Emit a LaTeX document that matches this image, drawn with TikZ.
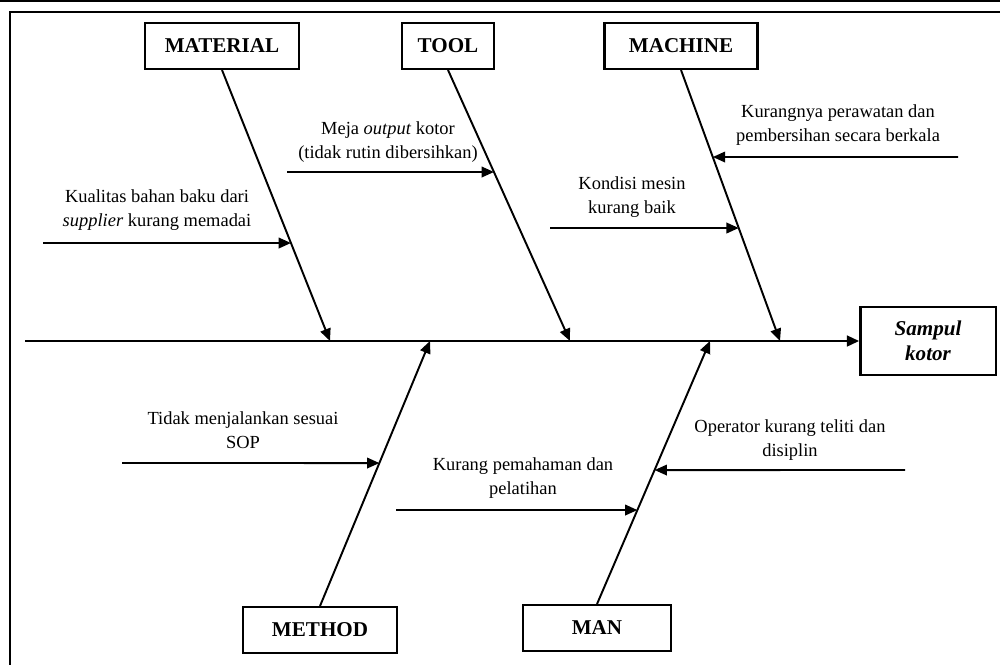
\documentclass[tikz,border=0pt]{standalone}
\usepackage{fontspec}
\setmainfont{Liberation Serif}
\usetikzlibrary{arrows.meta,positioning,calc}

\begin{document}
\begin{tikzpicture}[
        x=0.02cm, y=-0.02cm,
        font=\fontsize{10.5}{13.6}\selectfont,
        cause/.style={draw, line width=1.3pt, align=center, inner sep=0pt,
            minimum height=26pt, font=\fontsize{12}{14}\selectfont\bfseries},
        effect/.style={draw, line width=1.3pt, align=center, inner sep=0pt,
            minimum width=77pt, minimum height=38.5pt,
            font=\fontsize{12}{14}\selectfont\bfseries\itshape},
        note/.style={align=center, inner sep=0pt},
        spine/.style={line width=1.6pt, -{Triangle[length=7pt,width=6pt]}},
        bone/.style={line width=1.1pt, -{Triangle[length=7pt,width=6pt]}},
        arrow/.style={line width=1.1pt, -{Triangle[length=7pt,width=6pt]}}
    ]
    \useasboundingbox (0,0) rectangle (1000,664);
    % frame
    \draw[line width=1.2pt] (0,1) -- (1000,1);
    \draw[line width=1.2pt] (1005,12) -- (10,12) -- (10,670);

    % categories
    \node[cause, minimum width=88pt] (material) at (222,46) {MATERIAL};
    \node[cause, minimum width=52pt] (tool) at (448,46) {TOOL};
    \node[cause, minimum width=87pt] (machine) at (681,46) {MACHINE};
    \node[cause, minimum width=88pt] (method) at (320,630) {METHOD};
    \node[cause, minimum width=84pt] (man) at (597,628) {MAN};
    \node[effect] (sampul) at (928,341) {Sampul\\kotor};

    % spine and bones
    \coordinate (spineS) at (25,341);
    \draw[spine] (spineS) -- (sampul.west);
    \coordinate (tipMat) at (330,341);
    \coordinate (tipTool) at (570,341);
    \coordinate (tipMach) at (780,341);
    \coordinate (tipMeth) at (430,341);
    \coordinate (tipMan) at (710,341);
    \draw[bone] (material.south) -- (tipMat);
    \draw[bone] (tool.south) -- (tipTool);
    \draw[bone] (machine.south) -- (tipMach);
    \draw[bone] (method.north) -- (tipMeth);
    \draw[bone] (man.north) -- (tipMan);

    % causes
    \node[note] (kual) at (157,210) {Kualitas bahan baku dari\\\textit{supplier} kurang memadai};
    \coordinate (kualS) at (43,243);
    \coordinate (kualH) at (300,243);
    \draw[arrow] (kualS) -- (intersection of material.south--tipMat and kualS--kualH);

    \node[note] (meja) at (388,142) {Meja \textit{output} kotor\\(tidak rutin dibersihkan)};
    \coordinate (mejaS) at (287,172);
    \coordinate (mejaH) at (500,172);
    \draw[arrow] (mejaS) -- (intersection of tool.south--tipTool and mejaS--mejaH);

    \node[note] (kondisi) at (632,197) {Kondisi mesin\\kurang baik};
    \coordinate (kondisiS) at (550,228);
    \coordinate (kondisiH) at (740,228);
    \draw[arrow] (kondisiS) -- (intersection of machine.south--tipMach and kondisiS--kondisiH);

    \node[note] (rawat) at (838,125) {Kurangnya perawatan dan\\pembersihan secara berkala};
    \coordinate (rawatS) at (958,157);
    \coordinate (rawatH) at (710,157);
    \draw[arrow] (rawatS) -- (intersection of machine.south--tipMach and rawatS--rawatH);

    \node[note] (sop) at (243,430) {Tidak menjalankan sesuai\\SOP};
    \coordinate (sopS) at (122,463);
    \coordinate (sopH) at (380,463);
    \draw[arrow] (sopS) -- (intersection of method.north--tipMeth and sopS--sopH);

    \node[note] (paham) at (523,478) {Kurang pemahaman dan\\pelatihan};
    \coordinate (pahamS) at (396,510);
    \coordinate (pahamH) at (640,510);
    \draw[arrow] (pahamS) -- (intersection of man.north--tipMan and pahamS--pahamH);

    \node[note] (teliti) at (790,440) {Operator kurang teliti dan\\disiplin};
    \coordinate (telitiS) at (905,470);
    \coordinate (telitiH) at (660,470);
    \draw[arrow] (telitiS) -- (intersection of man.north--tipMan and telitiS--telitiH);
\end{tikzpicture}
\end{document}
